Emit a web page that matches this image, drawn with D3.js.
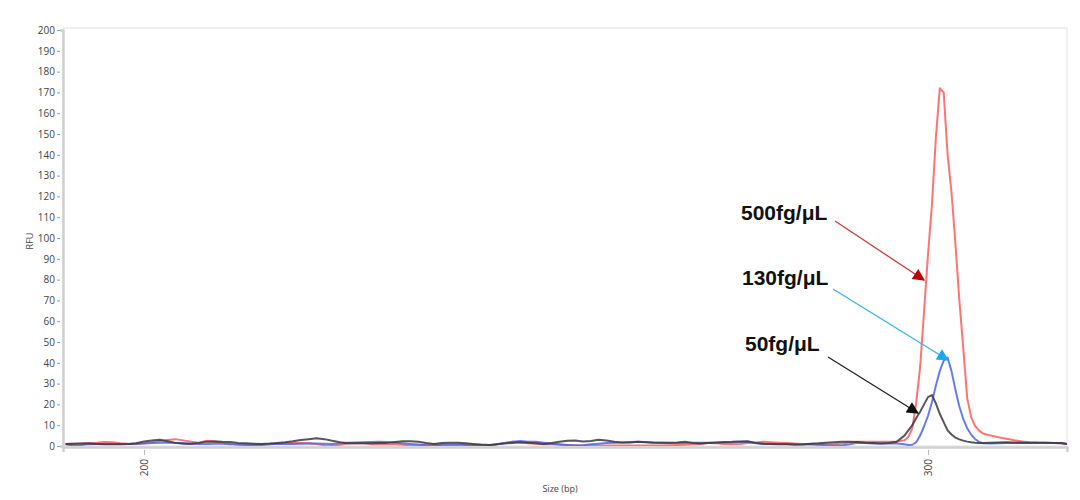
<!DOCTYPE html>
<html><head><meta charset="utf-8">
<script src="https://cdn.jsdelivr.net/npm/d3@7/dist/d3.min.js"></script>
<style>
html,body{margin:0;padding:0;background:#fff;}
svg{display:block;}
</style></head>
<body>
<svg id="chart" width="1080" height="500"></svg>
<script>
// ---- data ----
const sizes = [
190,191,192,193,194,195,196,197,198,199,200,201,202,203,204,205,206,207,208,209,
210,211,212,213,214,215,216,217,218,219,220,221,222,223,224,225,226,227,228,229,
230,231,232,233,234,235,236,237,238,239,240,241,242,243,244,245,246,247,248,249,
250,251,252,253,254,255,256,257,258,259,260,261,262,263,264,265,266,267,268,269,
270,271,272,273,274,275,276,277,278,279,280,281,282,283,284,285,286,287,288,289,
290,291,292,293,294,295,296,297,
297.5,298,298.5,299,299.5,300,300.5,301,301.5,302,302.5,303,303.5,304,304.5,305,305.5,306,306.5,
307,308,309,310,311,312,313,314,315,316,317,318];

const rfu500 = [
1.0,1.1,1.2,1.4,1.6,1.9,1.8,1.3,1.1,1.0,1.3,1.8,2.4,2.9,3.3,2.7,2.0,1.6,2.5,2.3,
1.6,1.1,1.0,0.9,0.8,0.8,0.9,1.1,1.3,1.4,1.4,1.3,1.0,0.4,0.3,0.6,1.2,1.3,1.3,0.9,
0.8,0.8,0.8,0.6,0.3,0.4,0.7,0.8,0.5,0.3,0.5,0.8,0.6,0.4,0.3,0.8,1.5,2.0,1.7,1.3,
1.1,0.9,0.8,0.6,0.5,0.4,0.3,0.3,0.3,0.3,0.3,0.3,0.3,0.3,0.3,0.3,0.3,0.4,0.5,0.6,
0.8,1.0,1.5,1.3,1.0,0.8,1.0,1.4,1.7,2.0,1.8,1.6,1.4,1.2,1.0,0.9,0.8,0.8,0.8,1.2,
1.8,2.0,2.0,2.0,2.0,2.0,2.1,2.8,
4.5,8.5,21,38,65,92,116,148,172,170,140,122,97,70,47,23,14,9.6,7.5,
6,5,4.2,3.5,2.8,2.2,1.8,1.6,1.5,1.5,1.3,0.8];

const rfu130 = [
0.8,0.2,0.5,0.9,1.0,1.0,1.0,1.0,1.0,1.1,1.2,1.4,1.6,1.7,1.4,1.4,1.2,1.0,1.0,1.1,
1.1,0.9,0.6,0.5,0.5,0.5,0.8,1.1,1.0,1.0,1.1,1.2,1.2,1.1,1.0,1.3,1.6,1.7,1.8,1.9,
2.0,1.9,1.6,1.3,1.0,0.7,0.4,0.3,0.6,0.8,0.7,0.5,0.3,0.3,0.3,0.7,1.4,2.0,2.4,2.1,
2.0,1.6,1.1,0.8,0.5,0.3,0.4,0.8,1.1,1.4,1.6,1.7,1.9,2.0,1.9,1.7,1.6,1.5,1.5,1.5,
1.6,1.6,1.6,1.6,1.6,1.7,1.9,2.0,1.3,1.0,1.0,1.0,1.0,1.0,0.9,0.8,0.6,0.4,0.3,0.3,
0.8,1.5,1.4,1.2,1.2,1.2,1.2,0.8,
0.5,0.6,1.8,5.0,9.5,14.5,21,29,36,41,42.5,36,27,19,13,8.5,5.5,3.4,2.0,
1.3,1.2,1.3,1.4,1.5,1.5,1.5,1.6,1.6,1.5,1.3,0.8];

const rfu50 = [
1.0,1.1,1.2,1.2,1.0,0.8,0.8,0.9,1.0,1.3,2.2,2.7,3.0,2.3,1.5,1.1,1.0,1.5,2.1,2.2,
2.0,1.9,1.5,1.3,1.1,1.0,1.2,1.5,1.8,2.3,2.9,3.3,3.7,3.3,2.5,1.8,1.3,1.3,1.3,1.3,
1.4,1.5,1.9,2.3,2.3,2.0,1.4,1.0,1.4,1.6,1.6,1.3,1.0,0.7,0.5,0.9,1.2,1.5,1.8,1.6,
1.3,1.0,1.4,2.0,2.5,2.7,2.2,2.4,3.0,2.6,2.0,1.7,1.7,2.0,1.8,1.6,1.6,1.6,1.7,2.0,
1.5,1.2,1.5,1.7,1.9,2.0,2.2,2.3,1.5,1.1,1.0,0.9,0.8,0.6,0.7,1.1,1.3,1.6,1.8,2.0,
2.0,1.9,1.6,1.4,1.2,1.4,2.0,5.0,
7.5,10,13.5,16.5,20,23.5,24.5,20.5,15.5,11.5,7.5,5.5,4,3.2,2.6,2.1,1.8,1.6,1.5,
1.5,1.6,1.7,1.8,1.7,1.6,1.6,1.6,1.6,1.5,1.4,0.8];

const yTicks = [0,10,20,30,40,50,60,70,80,90,100,110,120,130,140,150,160,170,180,190,200];
const xTicks = [200,300];
const seriesNames = ["500fg/μL","130fg/μL","50fg/μL"];

// ---- layout ----
const L = 63, R = 1067, T = 30, B = 446;
const svg = d3.select("#chart");
const x = d3.scaleLinear().domain([189.67, 317.73]).range([L, R]);
const y = d3.scaleLinear().domain([0, 200]).range([B, T]);

// frame
svg.append("rect").attr("x", L).attr("y", T - 2).attr("width", R - L).attr("height", B - T + 2)
  .attr("fill", "none").attr("stroke", "#e2e2e2").attr("stroke-width", 1);

// y axis
const yAxis = svg.append("g").attr("transform", `translate(${L},0)`)
  .call(d3.axisLeft(y).tickValues(yTicks).tickSize(3).tickPadding(3));
yAxis.select(".domain").attr("stroke", "#d0d0d0").attr("stroke-width", 2.5);
yAxis.selectAll(".tick line").attr("stroke", "#999").attr("transform", "translate(-3,0)");
yAxis.selectAll(".tick text").attr("fill", "#444").attr("font-size", 10)
  .attr("font-family", "'Open Sans', 'DejaVu Sans', sans-serif").attr("x", -8);

// x axis
const xAxis = svg.append("g").attr("transform", `translate(0,${B + 1})`)
  .call(d3.axisBottom(x).tickValues(xTicks).tickSize(5).tickFormat(d3.format("d")));
xAxis.select(".domain").attr("stroke", "#d0d0d0").attr("stroke-width", 2.5);
xAxis.selectAll(".tick line").attr("stroke", "#bbb").attr("transform", "translate(0,3)");
xAxis.selectAll(".tick text").attr("fill", "#444").attr("font-size", 10)
  .attr("font-family", "'Open Sans', 'DejaVu Sans', sans-serif")
  .attr("transform", "rotate(-90)").attr("text-anchor", "end")
  .attr("x", -12).attr("y", 0).attr("dy", "0.35em");

// axis titles
svg.append("text").attr("transform", `translate(33,${(T + B) / 2 + 3}) rotate(-90)`)
  .attr("text-anchor", "middle").attr("font-size", 9).attr("fill", "#444")
  .attr("font-family", "'Open Sans', 'DejaVu Sans', sans-serif").text("RFU");
svg.append("text").attr("x", 560).attr("y", 492)
  .attr("text-anchor", "middle").attr("font-size", 9).attr("fill", "#444")
  .attr("font-family", "'Open Sans', 'DejaVu Sans', sans-serif").text("Size (bp)");

// clip
svg.append("defs").append("clipPath").attr("id", "plotclip")
  .append("rect").attr("x", L).attr("y", T - 5).attr("width", R - L).attr("height", B - T + 5);

const line = d3.line().x((d, i) => x(sizes[i])).y(d => y(d));
const g = svg.append("g").attr("clip-path", "url(#plotclip)");
const series = [
  {vals: rfu500, color: "#ff5a5a", op: 0.85},
  {vals: rfu130, color: "#4a66ec", op: 0.85},
  {vals: rfu50,  color: "#3a3a3a", op: 0.85}
];
series.forEach(s => {
  g.append("path").datum(s.vals).attr("d", line)
    .attr("fill", "none").attr("stroke", s.color).attr("stroke-width", 2)
    .attr("stroke-opacity", s.op).attr("stroke-linejoin", "round");
});

// annotations
const defs = svg.select("defs");
const annColors = ["#c00000", "#1aa8f0", "#111111"];
const lineColors = ["#d03a3a", "#33b5f0", "#222222"];
annColors.forEach((c, i) => {
  defs.append("marker").attr("id", "arr" + i).attr("viewBox", "0 0 10 10")
    .attr("refX", 9).attr("refY", 5).attr("markerWidth", 13).attr("markerHeight", 12)
    .attr("markerUnits", "userSpaceOnUse").attr("orient", "auto")
    .append("path").attr("d", "M0,0 L10,5 L0,10 Z").attr("fill", c);
});
const annText = [
  {t: seriesNames[0], tx: 741, ty: 220, x1: 835, y1: 221, x2: 924, y2: 280},
  {t: seriesNames[1], tx: 742, ty: 285, x1: 833, y1: 289, x2: 948, y2: 360},
  {t: seriesNames[2], tx: 745, ty: 351, x1: 828, y1: 357, x2: 918, y2: 413}
];
annText.forEach((a, i) => {
  svg.append("text").attr("x", a.tx).attr("y", a.ty).attr("font-size", 21)
    .attr("font-weight", "bold").attr("fill", "#111")
    .attr("font-family", "'Liberation Sans', Arial, sans-serif").text(a.t);
  svg.append("line").attr("x1", a.x1).attr("y1", a.y1).attr("x2", a.x2).attr("y2", a.y2)
    .attr("stroke", lineColors[i]).attr("stroke-width", 1.3)
    .attr("marker-end", `url(#arr${i})`);
});
</script>
</body></html>
